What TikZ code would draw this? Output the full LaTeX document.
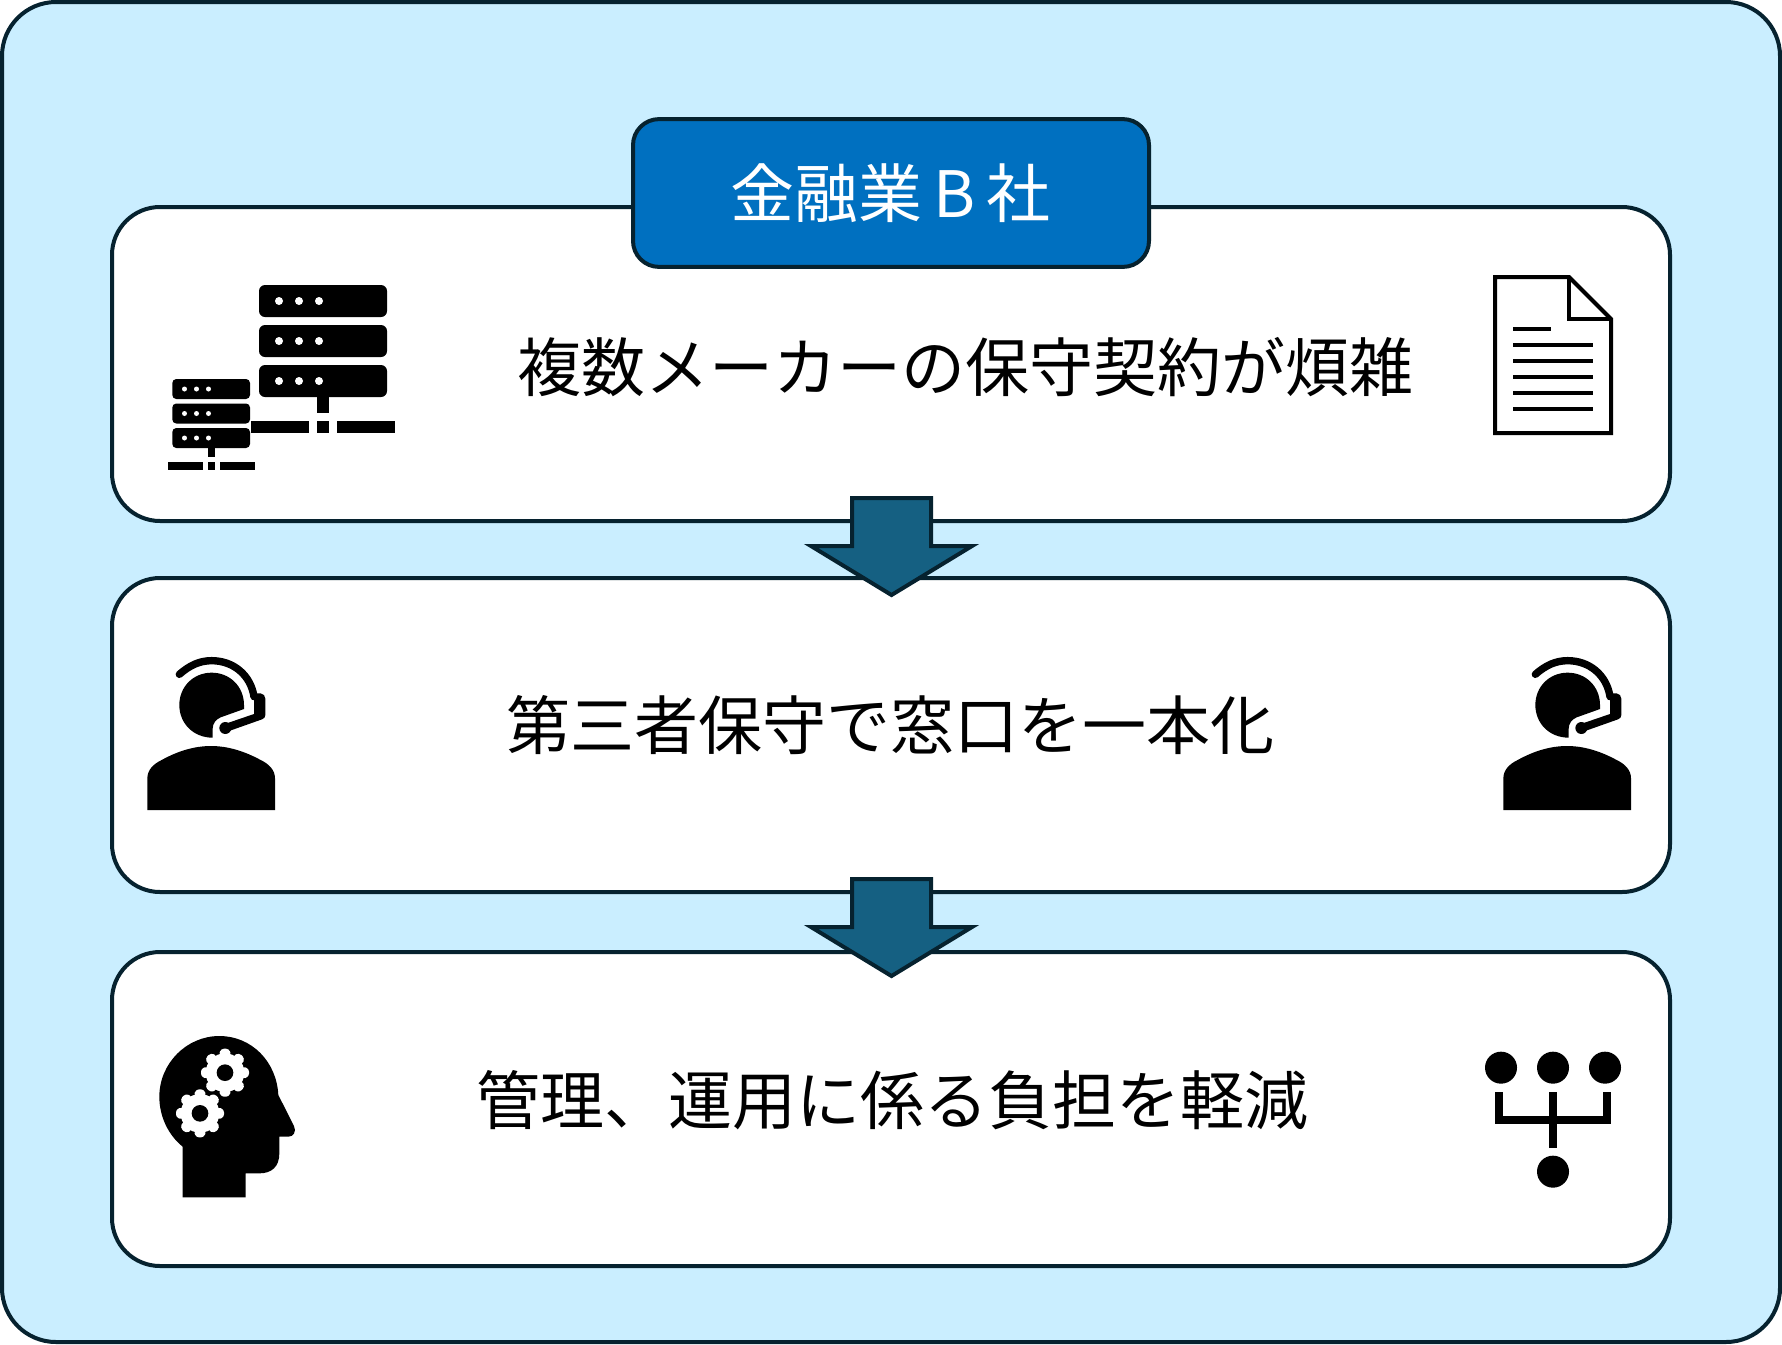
\documentclass[tikz,border=0pt]{standalone}
\usepackage{fontspec}
\setmainfont{Noto Sans CJK JP}
\definecolor{skybg}{HTML}{CAEEFF}
\definecolor{edgecol}{HTML}{06222F}
\definecolor{titleblue}{HTML}{0070C0}
\definecolor{arrowcol}{HTML}{156082}
\tikzset{
  panel/.style={draw=edgecol,line width=2pt,fill=white,rounded corners=24pt,minimum width=779pt,minimum height=157pt,inner sep=0pt},
  outerpanel/.style={draw=edgecol,line width=2pt,fill=skybg,rounded corners=27pt,minimum width=889pt,minimum height=670pt,inner sep=0pt},
  titlebox/.style={draw=edgecol,line width=2pt,fill=titleblue,rounded corners=13pt,minimum width=258pt,minimum height=73.9pt,inner sep=0pt,text=white,font=\fontsize{32pt}{36pt}\selectfont},
  label/.style={inner sep=0pt,text=black,font=\fontsize{32pt}{36pt}\selectfont},
  downarrow/.style={draw=edgecol,line width=2pt,fill=arrowcol,miter limit=10},
  iconz/.style={x=0.16667pt,y=-0.16667pt},
}
\newcommand{\onegear}[2]{%
  \fill[white] (#1,#2) circle[radius=58];
  \foreach \a in {0,45,...,315}
    \fill[white,shift={(#1,#2)},rotate=\a,rounded corners=1.5pt] (-19,-52) -- (-12,-72) -- (12,-72) -- (19,-52) -- cycle;
  \fill[black] (#1,#2) circle[radius=25];
}
\newcommand{\headsetat}[2]{%
  \begin{scope}[shift={(#1,#2)},iconz]
    \fill[black] (248,293) .. controls (190,293) and (148,250) .. (148,195)
      .. controls (148,140) and (190,98) .. (245,98)
      .. controls (300,98) and (342,140) .. (342,195) -- (342,207)
      -- (272,232) .. controls (258,238) and (248,250) .. (248,266) -- cycle;
    \fill[black] (52,510) -- (52,415) .. controls (52,390) and (70,372) .. (95,360)
      .. controls (140,335) and (190,318) .. (243,318)
      .. controls (296,318) and (346,335) .. (392,360)
      .. controls (417,372) and (435,390) .. (435,415) -- (435,510) -- cycle;
    \draw[black,line width=3.7pt,line cap=round] (148,103) .. controls (180,75) and (210,62) .. (245,62)
      .. controls (310,62) and (362,105) .. (372,170);
    \fill[black] (372,160) -- (392,160) .. controls (400,160) and (406,168) .. (406,176) -- (406,225)
      .. controls (406,232) and (402,236) .. (396,238) -- (300,272) -- (290,250) -- (372,222) -- cycle;
    \fill[black] (286,264) circle[radius=18];
  \end{scope}
}
\begin{document}
\begin{tikzpicture}[x=0.5pt,y=-0.5pt]
\useasboundingbox (0,0) rectangle (1782,1344);
\node[outerpanel] (outer) at (891,672) {};
\node[panel] (p1) at (891,364) {};
\node[panel] (p2) at (891,735) {};
\node[panel] (p3) at (891,1109) {};
\node[titlebox] (title) at (891,193) {\raisebox{0.7pt}{金融業\hspace{5.5pt}B\hspace{5.5pt}社}};
\node[label] (t1) at (965,367) {複数メーカーの保守契約が煩雑};
\node[label] (t2) at (890.5,725) {第三者保守で窓口を一本化};
\node[label] (t3) at (892,1100) {管理、運用に係る負担を軽減};
% arrows
\draw[downarrow] (852,498) -- (931,498) -- (931,546) -- (972,546) -- (891.5,595) -- (811,546) -- (852,546) -- cycle;
\draw[downarrow] (852,879) -- (931,879) -- (931,927) -- (972,927) -- (891.5,976) -- (811,927) -- (852,927) -- cycle;
% servers
\foreach \yy in {285,325,365} {
  \fill[black,rounded corners=3pt] (259,\yy) rectangle (387,\yy+32);
  \foreach \xx in {279,299,319} \fill[white] (\xx,\yy+16) circle[radius=4];
}
\fill[black] (317,397) rectangle (329,413);
\fill[black] (251,421) rectangle (309,433);
\fill[black] (317,421) rectangle (329,433);
\fill[black] (337,421) rectangle (395,433);
\foreach \yy in {379,403.5,428} {
  \fill[black,rounded corners=2pt] (172.3,\yy) rectangle (250,\yy+20);
  \foreach \xx in {184.5,196.5,208.5} \fill[white] (\xx,\yy+10) circle[radius=2.5];
}
\fill[black] (207.5,448) rectangle (214.5,457);
\fill[black] (167.5,462) rectangle (202.5,470);
\fill[black] (207.5,462) rectangle (214.5,470);
\fill[black] (219.5,462) rectangle (255,470);
% document
\draw[black,line width=2pt,miter limit=10] (1495,277) -- (1569,277) -- (1611,319) -- (1611,433) -- (1495,433) -- cycle;
\draw[black,line width=2pt] (1569,277) -- (1569,319) -- (1611,319);
\foreach \yy/\xe in {329/1551,345/1593,361/1593,377/1593,393/1593,409/1593}
  \draw[black,line width=2pt] (1513,\yy) -- (\xe,\yy);
% headsets
\headsetat{130}{640}
\headsetat{1486}{640}
% head with gears
\begin{scope}[shift={(140,1020)},iconz]
  \fill[black] (128,532) -- (128,380) .. controls (85,345) and (58,290) .. (58,230)
    .. controls (58,130) and (140,48) .. (238,48)
    .. controls (335,48) and (410,125) .. (415,225) -- (462,318)
    .. controls (470,335) and (460,350) .. (445,350) -- (418,350) -- (418,400)
    .. controls (418,440) and (395,460) .. (358,460) -- (317,460) -- (317,532) -- cycle;
  \onegear{255}{158}
  \onegear{180}{280}
\end{scope}
% network
\begin{scope}[shift={(1470,1030)},iconz]
  \foreach \cx/\cy in {93/113,249/113,405/113,249/425}
    \fill[black] (\cx,\cy) circle[radius=48];
  \fill[black] (75,185) rectangle (99,282);
  \fill[black] (237,185) rectangle (261,355);
  \fill[black] (400,185) rectangle (423,282);
  \fill[black] (75,258) rectangle (423,282);
\end{scope}
\end{tikzpicture}
\end{document}
